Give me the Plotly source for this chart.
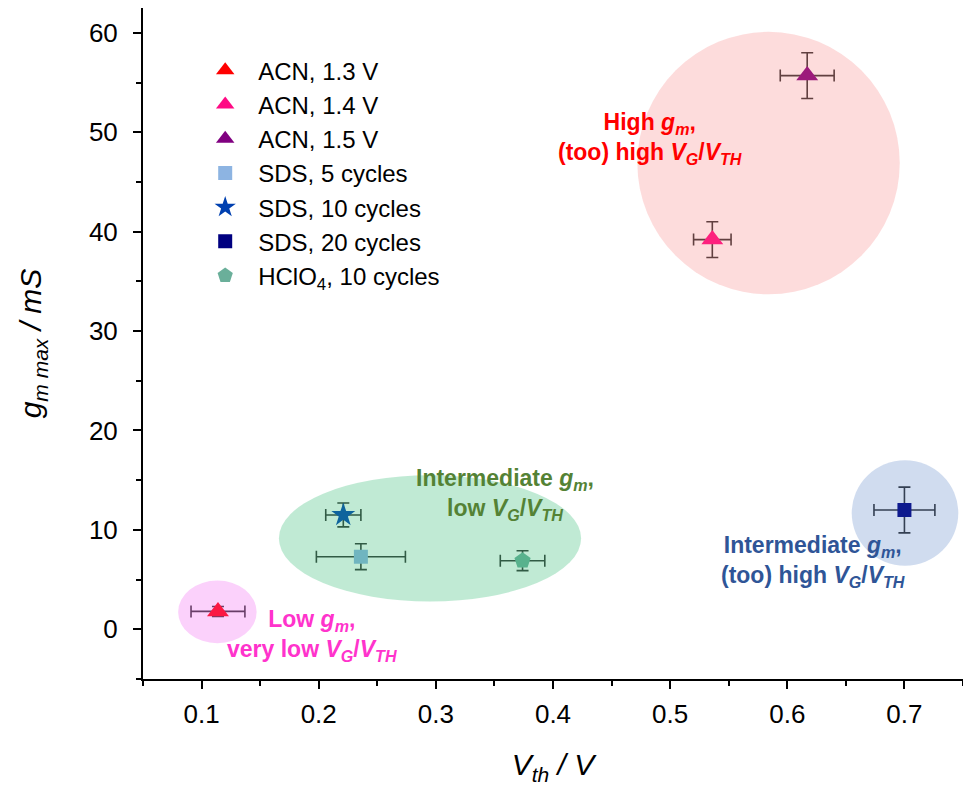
import plotly.graph_objects as go

# ---- data ----
names = ["ACN, 1.3 V", "ACN, 1.4 V", "ACN, 1.5 V", "SDS, 5 cycles",
         "SDS, 10 cycles", "SDS, 20 cycles", "HClO<sub>4</sub>, 10 cycles"]
vth = [0.114, 0.536, 0.617, 0.236, 0.221, 0.700, 0.374]
vth_err = [0.023, 0.016, 0.023, 0.038, 0.015, 0.026, 0.019]
gm = [1.8, 39.2, 55.7, 7.3, 11.5, 12.0, 6.9]
gm_err = [0.5, 1.8, 2.3, 1.3, 1.2, 2.3, 1.0]
symbols = ["triangle-up", "triangle-up", "triangle-up", "square", "star", "square", "pentagon"]
colors = ["#FF0000", "#FF0A84", "#800080", "#8DB4E2", "#0040B0", "#000080", "#6AAF9A"]
sizes = [19, 19, 19, 14, 18, 14, 17]

# group regions (x0, x1, y0, y1) in data units
regions_x0 = [0.472, 0.166, 0.080, 0.655]
regions_x1 = [0.696, 0.424, 0.147, 0.746]
regions_y0 = [33.7, 2.8, -1.4, 6.4]
regions_y1 = [60.1, 15.5, 4.9, 17.0]
regions_fill = ["rgba(245,110,110,0.24)", "rgba(45,185,112,0.30)",
                "rgba(240,90,240,0.28)", "rgba(60,110,190,0.24)"]

ann_text = [
    "<b>High <i>g<sub>m</sub></i>,<br>(too) high <i>V<sub>G</sub></i>/<i>V<sub>TH</sub></i></b>",
    "<b>Intermediate <i>g<sub>m</sub></i>,<br>low <i>V<sub>G</sub></i>/<i>V<sub>TH</sub></i></b>",
    "<b>Low <i>g<sub>m</sub></i>,<br>very low <i>V<sub>G</sub></i>/<i>V<sub>TH</sub></i></b>",
    "<b>Intermediate <i>g<sub>m</sub></i>,<br>(too) high <i>V<sub>G</sub></i>/<i>V<sub>TH</sub></i></b>",
]
ann_x = [0.483, 0.359, 0.194, 0.622]
ann_y = [49.4, 13.6, -0.6, 6.8]
ann_color = ["#FF0000", "#548235", "#FF33CC", "#2F5597"]

fig = go.Figure()
for i in range(len(names)):
    fig.add_trace(go.Scatter(
        x=[vth[i]], y=[gm[i]], name=names[i], mode="markers",
        marker=dict(symbol=symbols[i], color=colors[i], size=sizes[i], line=dict(width=0)),
        error_x=dict(type="data", array=[vth_err[i]], color="#333333", thickness=1.6, width=6),
        error_y=dict(type="data", array=[gm_err[i]], color="#333333", thickness=1.6, width=6),
    ))

for i in range(len(regions_x0)):
    fig.add_shape(type="circle", xref="x", yref="y",
                  x0=regions_x0[i], x1=regions_x1[i], y0=regions_y0[i], y1=regions_y1[i],
                  fillcolor=regions_fill[i], line=dict(width=0), layer="above")

for i in range(len(ann_text)):
    fig.add_annotation(x=ann_x[i], y=ann_y[i], xref="x", yref="y", text=ann_text[i],
                       showarrow=False, align="center",
                       font=dict(family="Liberation Sans, Arial", size=23, color=ann_color[i]))

fig.update_layout(
    width=963, height=790,
    margin=dict(l=143, r=0, t=8, b=111),
    paper_bgcolor="white", plot_bgcolor="white",
    font=dict(family="Liberation Sans, Arial", color="black"),
    showlegend=True,
    legend=dict(x=0.06, y=0.94, xanchor="left", yanchor="top",
                font=dict(size=24, family="Liberation Sans, Arial"),
                bgcolor="rgba(0,0,0,0)", itemwidth=56),
    xaxis=dict(range=[0.05, 0.75], tickvals=[0.1, 0.2, 0.3, 0.4, 0.5, 0.6, 0.7],
               ticktext=["0.1", "0.2", "0.3", "0.4", "0.5", "0.6", "0.7"],
               showgrid=False, zeroline=False, showline=True, linecolor="black", linewidth=2,
               ticks="outside", ticklen=8, tickwidth=1.5, tickcolor="black",
               ticklabelstandoff=3,
               minor=dict(tickvals=[0.05, 0.15, 0.25, 0.35, 0.45, 0.55, 0.65, 0.75],
                          ticks="outside", ticklen=5, tickwidth=1.5, tickcolor="black"),
               tickfont=dict(size=26, family="Liberation Sans, Arial"),
               title=dict(text="<i>V<sub>th</sub> / V</i>", standoff=26,
                          font=dict(size=30, family="Liberation Sans, Arial"))),
    yaxis=dict(range=[-5, 62.5], tickvals=[0, 10, 20, 30, 40, 50, 60],
               showgrid=False, zeroline=False, showline=True, linecolor="black", linewidth=2,
               ticks="outside", ticklen=8, tickwidth=1.5, tickcolor="black",
               ticklabelstandoff=10,
               minor=dict(tickvals=[-5, 5, 15, 25, 35, 45, 55],
                          ticks="outside", ticklen=5, tickwidth=1.5, tickcolor="black"),
               tickfont=dict(size=26, family="Liberation Sans, Arial"),
               title=dict(text="<i>g<sub>m max</sub> / mS</i>", standoff=38,
                          font=dict(size=30, family="Liberation Sans, Arial"))),
)

fig.write_html("out.html")
